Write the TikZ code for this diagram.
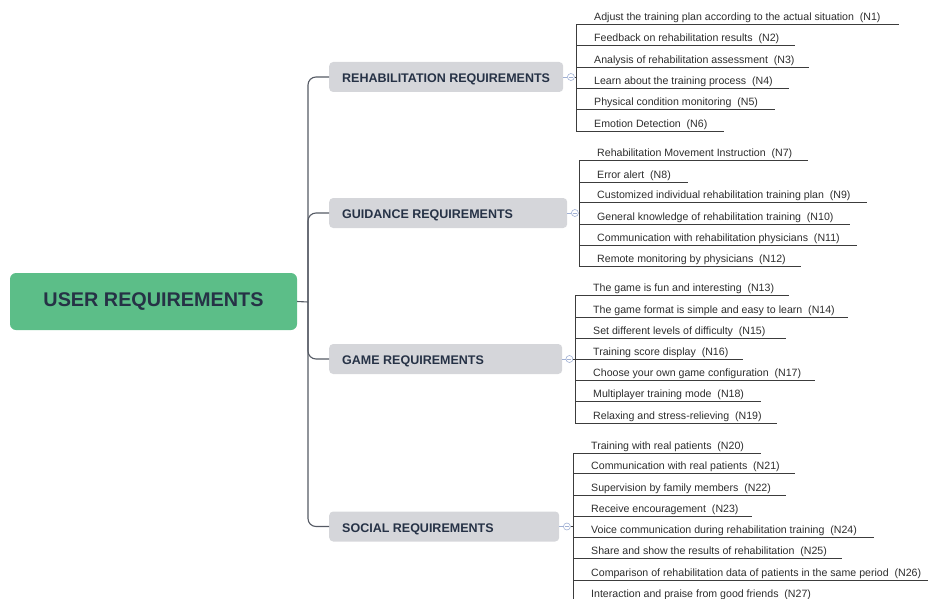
\documentclass[tikz,border=0pt]{standalone}
\usepackage{fontspec}
\setmainfont{Liberation Sans}
\definecolor{rootgreen}{RGB}{92,190,136}
\definecolor{headtext}{RGB}{38,50,70}
\definecolor{catgrey}{RGB}{213,214,218}
\definecolor{trunkgrey}{RGB}{85,90,100}
\definecolor{itemgrey}{RGB}{60,60,60}
\definecolor{itemtext}{RGB}{45,45,45}
\definecolor{collapseblue}{RGB}{160,176,212}
\newcommand{\catlabel}[2]{\makebox[#1][l]{#2}}
\begin{document}
\begin{tikzpicture}[x=1pt,y=-1pt,
  rootbox/.style={fill=rootgreen, rounded corners=6pt, minimum width=287pt,
    minimum height=57pt, inner sep=0pt, text=headtext,
    font=\fontsize{19.8}{22}\selectfont\bfseries},
  catbox/.style={fill=catgrey, rounded corners=4pt, minimum height=30pt,
    inner xsep=13pt, inner ysep=0pt, anchor=west, text=headtext,
    text height=11.5pt, text depth=0pt,
    font=\fontsize{12.5}{14}\selectfont\bfseries},
  collapse/.style={circle, draw=collapseblue, fill=white, line width=0.6pt,
    minimum size=7pt, inner sep=0pt,
    path picture={\draw[collapseblue, line width=0.6pt]
      ([xshift=-2pt]path picture bounding box.center) --
      ([xshift=2pt]path picture bounding box.center);}},
  item/.style={anchor=base west, inner sep=0pt, text=itemtext,
    font=\fontsize{10.6}{12}\selectfont},
  trunk/.style={draw=trunkgrey, line width=1.1pt},
  stub/.style={draw=collapseblue, line width=0.7pt},
  itemline/.style={draw=itemgrey, line width=0.9pt},
]
\useasboundingbox (0,0) rectangle (928,599);
\clip (0,0) rectangle (928,599);

% root and the four categories
\node[rootbox] (root) at (153.5,301.5) {USER REQUIREMENTS};
\node[catbox] (r1) at (329,77)    {\catlabel{208pt}{REHABILITATION REQUIREMENTS}};
\node[catbox] (r2) at (329,213)   {\catlabel{212pt}{GUIDANCE REQUIREMENTS}};
\node[catbox] (r3) at (329,359)   {\catlabel{207pt}{GAME REQUIREMENTS}};
\node[catbox] (r4) at (329,526.5) {\catlabel{204pt}{SOCIAL REQUIREMENTS}};

% trunk
\coordinate (hub) at (308,302);
\draw[trunk] (root.east) -- (hub);
\foreach \r in {r1,r2,r3,r4}
  \draw[trunk, rounded corners=8pt] (hub) |- (\r.west);

% collapse markers
\node[collapse] (c1) at ([xshift=7.5pt]r1.east) {};
\node[collapse] (c2) at ([xshift=7.5pt]r2.east) {};
\node[collapse] (c3) at ([xshift=7pt]r3.east) {};
\node[collapse] (c4) at ([xshift=7.5pt]r4.east) {};

% item spines
\coordinate (g1top) at (576,24.3);  \coordinate (g1bot) at (576,131);
\coordinate (g2top) at (579,160.7); \coordinate (g2bot) at (579,266);
\coordinate (g3top) at (575,295.7); \coordinate (g3bot) at (575,423);
\coordinate (g4top) at (573,453);   \coordinate (g4bot) at (573,610);
\foreach \g in {1,2,3,4} {
  \draw[stub] (r\g.east) -- (c\g.west);
  \draw[itemline] (c\g.east) -- (c\g -| g\g top);
  \draw[itemline] (g\g top) -- (g\g bot);
}

% items: group / number / text / underline y / underline end
\foreach \g/\k/\t/\y/\e in {
  1/1/{Adjust the training plan according to the actual situation}/24.3/899,
  1/2/{Feedback on rehabilitation results}/45.7/795,
  1/3/{Analysis of rehabilitation assessment}/67/809,
  1/4/{Learn about the training process}/88.3/789,
  1/5/{Physical condition monitoring}/109.6/775,
  1/6/{Emotion Detection}/131/724,
  2/7/{Rehabilitation Movement Instruction}/160.7/808,
  2/8/{Error alert}/182/688,
  2/9/{Customized individual rehabilitation training plan}/202.7/867,
  2/10/{General knowledge of rehabilitation training}/224/850,
  2/11/{Communication with rehabilitation physicians}/245.3/857,
  2/12/{Remote monitoring by physicians}/266/801,
  3/13/{The game is fun and interesting}/295.7/789,
  3/14/{The game format is simple and easy to learn}/317/848,
  3/15/{Set different levels of difficulty}/338.3/786,
  3/16/{Training score display}/359.3/743,
  3/17/{Choose your own game configuration}/380.3/815,
  3/18/{Multiplayer training mode}/401.7/761,
  3/19/{Relaxing and stress-relieving}/423/777,
  4/20/{Training with real patients}/453/761,
  4/21/{Communication with real patients}/473.7/795,
  4/22/{Supervision by family members}/495/786,
  4/23/{Receive encouragement}/516.3/752,
  4/24/{Voice communication during rehabilitation training}/537.7/874,
  4/25/{Share and show the results of rehabilitation}/558.7/842,
  4/26/{Comparison of rehabilitation data of patients in the same period}/580/935,
  4/27/{Interaction and praise from good friends}/601.3/830} {
  \coordinate (u\k) at (\e,\y);
  \draw[itemline] (u\k -| g\g top) -- (u\k);
  \node[item] (n\k) at ([xshift=18pt,yshift=3.8pt]u\k -| g\g top) {\t\ \ (N\k)};
}
\end{tikzpicture}
\end{document}
